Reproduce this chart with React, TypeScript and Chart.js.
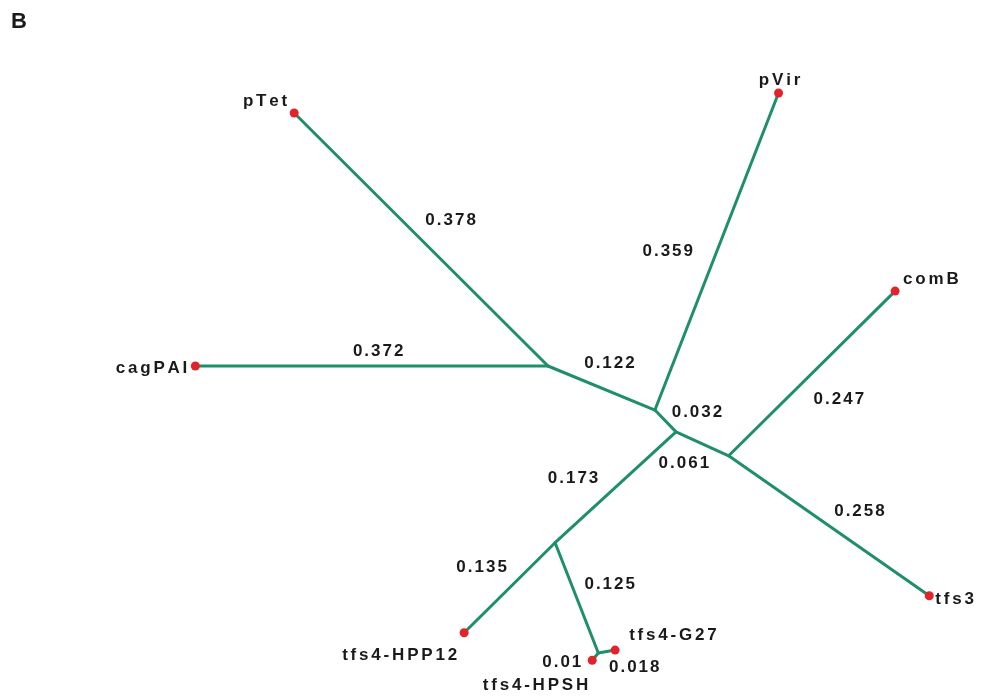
import React, { useEffect, useRef } from 'react';
import { Chart, registerables } from 'chart.js';

Chart.register(...registerables);

// ---- Tree data (unrooted tree, drawn to scale) ----
const edgeFrom = ['n1', 'n1', 'n1', 'n2', 'n2', 'n3', 'n4', 'n4', 'n3', 'n5', 'n5', 'n6', 'n6'];
const edgeTo = ['pTet', 'cagPAI', 'n2', 'pVir', 'n3', 'n4', 'comB', 'tfs3', 'n5', 'tfs4-HPP12', 'n6', 'tfs4-HPSH', 'tfs4-G27'];
const branchLengths = [0.378, 0.372, 0.122, 0.359, 0.032, 0.061, 0.247, 0.258, 0.173, 0.135, 0.125, 0.01, 0.018];
const branchAngles = [135.1, 180, -22.4, 68.7, -46, -24.4, 44.7, -34.9, -137.5, -135.3, -68.6, -130, 10];
const leafNames = ['pTet', 'cagPAI', 'pVir', 'comB', 'tfs3', 'tfs4-HPP12', 'tfs4-HPSH', 'tfs4-G27'];
const panelLetter = 'B';

// ---- Layout / style (pixel offsets for labels) ----
const edgeLabelOffsets: [number, number][] = [
  [29.5, -19], [6.5, -15], [8, -24.5], [-49, 0], [31.5, -8.5], [-18.5, 19],
  [27, 25.5], [30.5, -14.5], [-42.5, -9], [-28, -20.5], [33, -14], [-33.5, 6], [27.5, 16],
];
const leafLabelLayout: [number, number, 'left' | 'right' | 'center'][] = [
  [-7, -12, 'right'], [-8, 2, 'right'], [1, -13, 'center'], [8, -12, 'left'],
  [6, 3.5, 'left'], [-7, 22.5, 'right'], [-4, 25, 'right'], [14, -14.5, 'left'],
];

const W = 984;
const H = 697;
const PX_PER_UNIT = 948;
const ORIGIN_X = 548;
const ORIGIN_Y = 366;
const LINE_COLOR = '#1f8f69';
const DOT_COLOR = '#e3232c';
const TEXT_COLOR = '#1a1a1a';
const FONT = '"Liberation Sans", Arial, Helvetica, sans-serif';

function computePositions() {
  const pos: Record<string, { x: number; y: number }> = { n1: { x: 0, y: 0 } };
  edgeTo.forEach((to, i) => {
    const p = pos[edgeFrom[i]];
    const a = (branchAngles[i] * Math.PI) / 180;
    pos[to] = { x: p.x + branchLengths[i] * Math.cos(a), y: p.y + branchLengths[i] * Math.sin(a) };
  });
  return pos;
}

function drawSpaced(ctx: CanvasRenderingContext2D, text: string, x: number, y: number, align: string, spacing: number) {
  const chars = Array.from(text);
  const widths = chars.map((c) => ctx.measureText(c).width);
  const total = widths.reduce((a, b) => a + b, 0) + spacing * (chars.length - 1);
  let start = align === 'left' ? x : align === 'right' ? x - total : x - total / 2;
  ctx.textAlign = 'left';
  ctx.textBaseline = 'middle';
  chars.forEach((c, i) => {
    ctx.fillText(c, start, y);
    start += widths[i] + spacing;
  });
}

export default function App() {
  const canvasRef = useRef<HTMLCanvasElement | null>(null);

  useEffect(() => {
    if (!canvasRef.current) return;
    const pos = computePositions();

    const edgeDatasets = edgeTo.map((to, i) => ({
      type: 'scatter' as const,
      data: [pos[edgeFrom[i]], pos[to]],
      showLine: true,
      borderColor: LINE_COLOR,
      backgroundColor: LINE_COLOR,
      borderWidth: 3,
      pointRadius: 0,
      borderCapStyle: 'round' as const,
    }));

    const leafDataset = {
      type: 'scatter' as const,
      data: leafNames.map((n) => pos[n]),
      showLine: false,
      pointRadius: 4.5,
      pointBackgroundColor: DOT_COLOR,
      pointBorderWidth: 0,
      backgroundColor: DOT_COLOR,
      borderColor: DOT_COLOR,
    };

    const labelPlugin = {
      id: 'treeLabels',
      afterDatasetsDraw(chart: any) {
        const ctx: CanvasRenderingContext2D = chart.ctx;
        const xs = chart.scales.x;
        const ys = chart.scales.y;
        const px = (p: { x: number; y: number }) => ({ x: xs.getPixelForValue(p.x), y: ys.getPixelForValue(p.y) });
        ctx.save();
        ctx.fillStyle = TEXT_COLOR;
        // branch lengths
        ctx.font = `bold 17px ${FONT}`;
        edgeTo.forEach((to, i) => {
          const a = px(pos[edgeFrom[i]]);
          const b = px(pos[to]);
          const [dx, dy] = edgeLabelOffsets[i];
          drawSpaced(ctx, String(branchLengths[i]), (a.x + b.x) / 2 + dx, (a.y + b.y) / 2 + dy, 'center', 2);
        });
        // leaf names
        ctx.font = `bold 17px ${FONT}`;
        leafNames.forEach((n, i) => {
          const p = px(pos[n]);
          const [dx, dy, al] = leafLabelLayout[i];
          drawSpaced(ctx, n, p.x + dx, p.y + dy, al, 2.8);
        });
        // panel letter
        ctx.font = `bold 22px ${FONT}`;
        ctx.textAlign = 'left';
        ctx.textBaseline = 'alphabetic';
        ctx.fillText(panelLetter, 11, 28);
        ctx.restore();
      },
    };

    const chart = new Chart(canvasRef.current, {
      type: 'scatter',
      data: { datasets: [leafDataset, ...edgeDatasets] as any },
      options: {
        animation: false,
        responsive: false,
        maintainAspectRatio: false,
        devicePixelRatio: 1,
        layout: { padding: 0, autoPadding: false },
        events: [],
        plugins: { legend: { display: false }, tooltip: { enabled: false } },
        scales: {
          x: {
            type: 'linear',
            display: false,
            min: -ORIGIN_X / PX_PER_UNIT,
            max: (W - ORIGIN_X) / PX_PER_UNIT,
          },
          y: {
            type: 'linear',
            display: false,
            min: -(H - ORIGIN_Y) / PX_PER_UNIT,
            max: ORIGIN_Y / PX_PER_UNIT,
          },
        },
      },
      plugins: [labelPlugin],
    });
    return () => chart.destroy();
  }, []);

  return (
    <div style={{ position: 'absolute', left: 0, top: 0, width: W, height: H, background: '#fff' }}>
      <canvas ref={canvasRef} width={W} height={H} style={{ display: 'block' }} />
    </div>
  );
}
